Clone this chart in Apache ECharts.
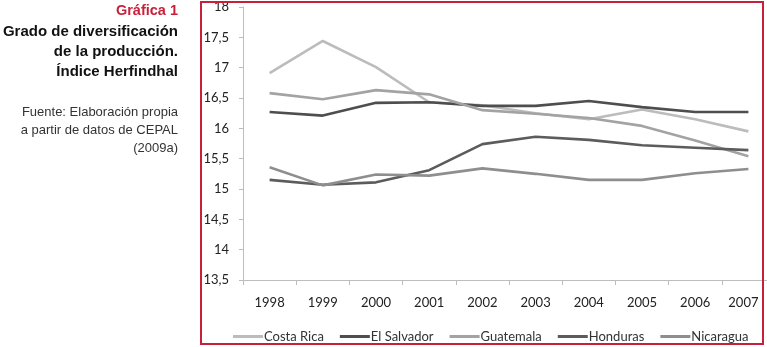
<!DOCTYPE html>
<html>
<head>
<meta charset="utf-8">
<script src="https://cdn.jsdelivr.net/npm/echarts@6/dist/echarts.min.js"></script>
<style>
  html, body { margin: 0; padding: 0; background: #fff; }
  #chart { width: 767px; height: 347px; }
</style>
</head>
<body>
<div id="chart"></div>
<script>
// data
const years = ['1998', '1999', '2000', '2001', '2002', '2003', '2004', '2005', '2006', '2007'];
const costaRica = [16.91, 17.44, 17.01, 16.43, 16.38, 16.25, 16.15, 16.31, 16.15, 15.95];
const elSalvador = [16.27, 16.21, 16.42, 16.43, 16.37, 16.37, 16.45, 16.35, 16.27, 16.27];
const guatemala = [16.58, 16.48, 16.63, 16.56, 16.3, 16.24, 16.17, 16.04, 15.8, 15.54];
const honduras = [15.15, 15.07, 15.11, 15.31, 15.74, 15.86, 15.81, 15.72, 15.68, 15.64];
const nicaragua = [15.36, 15.06, 15.24, 15.22, 15.34, 15.25, 15.15, 15.15, 15.26, 15.33];

const titleLines = ['Grado de diversificación', 'de la producción.', 'Índice Herfindhal'];
const sourceLines = ['Fuente: Elaboración propia', 'a partir de datos de CEPAL', '(2009a)'];

const chart = echarts.init(document.getElementById('chart'));

const mkSeries = (name, data, color) => ({
  name: name,
  type: 'line',
  data: data,
  showSymbol: false,
  symbol: 'none',
  itemStyle: {color: color},
  lineStyle: {color: color, width: 2.6},
  z: 3
});

const graphics = [
  {
    type: 'rect',
    shape: {x: 201, y: 2, width: 562, height: 342},
    style: {fill: null, stroke: '#c8203a', lineWidth: 2},
    z: 10
  },
  {
    type: 'text',
    x: 178, y: 11,
    style: {text: 'Gráfica 1', fill: '#c8203a', font: 'bold 14.5px "Liberation Sans", Arial, sans-serif', textAlign: 'right', textVerticalAlign: 'middle'}
  }
];
titleLines.forEach((t, i) => {
  graphics.push({
    type: 'text',
    x: 178, y: 32 + i * 20,
    style: {text: t, fill: '#111', font: 'bold 15px "Liberation Sans", Arial, sans-serif', textAlign: 'right', textVerticalAlign: 'middle'}
  });
});
sourceLines.forEach((t, i) => {
  graphics.push({
    type: 'text',
    x: 178, y: 112 + i * 18,
    style: {text: t, fill: '#333', font: '13px "Liberation Sans", Arial, sans-serif', textAlign: 'right', textVerticalAlign: 'middle'}
  });
});

chart.setOption({
  animation: false,
  backgroundColor: '#fff',
  textStyle: {fontFamily: 'Lato, "Open Sans", sans-serif'},
  // plot runs a bit past the red frame, as in the original
  grid: {left: 243, top: 7, bottom: 67, right: -8, containLabel: false, outerBoundsMode: 'none'},
  legend: {
    top: 325,
    left: 228,
    icon: 'rect',
    itemWidth: 30,
    itemHeight: 3,
    itemGap: 16,
    textStyle: {color: '#333', fontSize: 13, fontFamily: 'Lato, sans-serif', padding: [0, 0, 0, -4]},
    data: ['Costa Rica', 'El Salvador', 'Guatemala', 'Honduras', 'Nicaragua']
  },
  xAxis: {
    type: 'category',
    data: years,
    boundaryGap: true,
    axisLine: {lineStyle: {color: '#bdbdbd', width: 1}},
    axisTick: {show: true, length: 5, lineStyle: {color: '#bdbdbd'}},
    axisLabel: {
      interval: 0,
      color: '#222', fontSize: 13, margin: 16, fontFamily: 'Lato, sans-serif',
      formatter: (v, i) => i === years.length - 1 ? '{last|' + v + '}' : v,
      rich: {last: {color: '#222', fontSize: 13, fontFamily: 'Lato, sans-serif', padding: [0, 10, 0, 0]}}
    }
  },
  yAxis: {
    type: 'value',
    min: 13.5,
    max: 18,
    interval: 0.5,
    axisLine: {show: true, lineStyle: {color: '#bdbdbd', width: 1}},
    axisTick: {show: true, length: 4, lineStyle: {color: '#bdbdbd'}},
    splitLine: {show: false},
    axisLabel: {
      color: '#222', fontSize: 13, margin: 14, fontFamily: 'Lato, sans-serif',
      formatter: v => String(v).replace('.', ',')
    }
  },
  graphic: graphics,
  series: [
    mkSeries('Costa Rica', costaRica, '#bcbcbc'),
    mkSeries('El Salvador', elSalvador, '#4e4e4e'),
    mkSeries('Guatemala', guatemala, '#a3a3a3'),
    mkSeries('Honduras', honduras, '#5c5c5c'),
    mkSeries('Nicaragua', nicaragua, '#8e8e8e')
  ]
});
</script>
</body>
</html>
